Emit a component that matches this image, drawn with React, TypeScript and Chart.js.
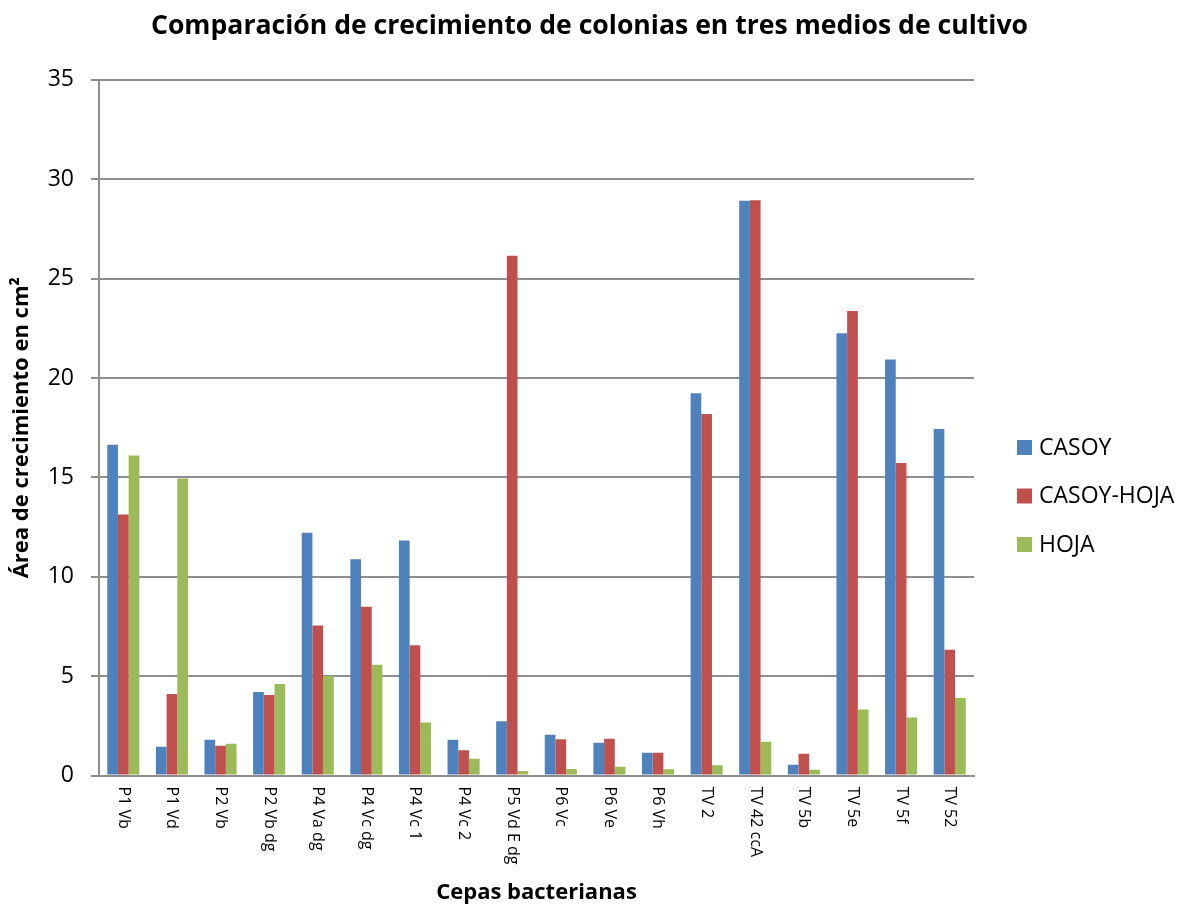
import React, { useEffect, useRef } from "react";
import { Chart, registerables } from "chart.js";

Chart.register(...registerables);

// Strains (categories) and colony growth area per culture medium, in cm²
const categories = [
  "P1 Vb", "P1 Vd", "P2 Vb", "P2 Vb dg", "P4 Va dg", "P4 Vc dg", "P4 Vc 1", "P4 Vc 2",
  "P5 Vd E dg", "P6 Vc", "P6 Ve", "P6 Vh", "TV 2", "TV 42 ccA", "TV 5b", "TV 5e", "TV 5f", "TV 52",
];
const casoy = [16.65, 1.45, 1.8, 4.2, 12.22, 10.88, 11.83, 1.8, 2.73, 2.05, 1.65, 1.15, 19.24, 28.92, 0.55, 22.25, 20.93, 17.44];
const casoyHoja = [13.13, 4.1, 1.5, 4.05, 7.55, 8.5, 6.56, 1.27, 26.16, 1.83, 1.85, 1.15, 18.19, 28.95, 1.1, 23.37, 15.73, 6.33];
const hoja = [16.11, 14.95, 1.6, 4.61, 5.01, 5.58, 2.67, 0.85, 0.23, 0.33, 0.44, 0.32, 0.52, 1.7, 0.3, 3.32, 2.92, 3.91];
const seriesNames = ["CASOY", "CASOY-HOJA", "HOJA"];
const yTicks = [0, 5, 10, 15, 20, 25, 30, 35];

const colors = ["#4F81BD", "#C0504D", "#9BBB59"];
const gridColor = "#8e8e8e";

// Category labels drawn reading top-to-bottom under each group
const verticalLabels = {
  id: "verticalLabels",
  afterDraw(chart: any) {
    const { ctx, scales } = chart;
    const x = scales.x;
    const top = chart.chartArea.bottom + 11;
    ctx.save();
    ctx.font = "16px 'Open Sans'";
    ctx.fillStyle = "#000";
    ctx.textAlign = "left";
    ctx.textBaseline = "middle";
    categories.forEach((label, i) => {
      const cx = x.getPixelForTick(i);
      ctx.save();
      ctx.translate(cx, top);
      ctx.rotate(Math.PI / 2);
      ctx.fillText(label, 0, 0);
      ctx.restore();
    });
    ctx.restore();
  },
};

// Legend at the right with square swatches
const sideLegend = {
  id: "sideLegend",
  afterDraw(chart: any) {
    const { ctx, chartArea } = chart;
    const x0 = chartArea.right + 43;
    const y0 = 447;
    const step = 48.5;
    ctx.save();
    ctx.font = "23px 'Open Sans'";
    ctx.textAlign = "left";
    ctx.textBaseline = "middle";
    chart.data.datasets.forEach((ds: any, i: number) => {
      const y = y0 + i * step;
      ctx.fillStyle = ds.backgroundColor;
      ctx.fillRect(x0, y - 7, 15, 15);
      ctx.fillStyle = "#000";
      ctx.fillText(ds.label, x0 + 22, y + 1);
    });
    ctx.restore();
  },
};

export default function App() {
  const canvasRef = useRef<HTMLCanvasElement | null>(null);

  useEffect(() => {
    if (!canvasRef.current) return;
    const chart = new Chart(canvasRef.current, {
      type: "bar",
      data: {
        labels: categories,
        datasets: [casoy, casoyHoja, hoja].map((values, i) => ({
          label: seriesNames[i],
          data: values,
          backgroundColor: colors[i],
          borderWidth: 0,
          categoryPercentage: 0.66,
          barPercentage: 1,
        })),
      },
      options: {
        animation: false,
        responsive: false,
        maintainAspectRatio: false,
        layout: { padding: 0 },
        plugins: {
          legend: { display: false },
          tooltip: { enabled: false },
          title: {
            display: true,
            text: "Comparación de crecimiento de colonias en tres medios de cultivo",
            color: "#000",
            font: { family: "'Open Sans'", size: 26.6, weight: "bold" },
            padding: { top: 10, bottom: 38 },
          },
        },
        scales: {
          x: {
            type: "category",
            offset: true,
            grid: { display: true, drawOnChartArea: false, drawTicks: false },
            border: { display: true, color: gridColor, width: 2 },
            ticks: { display: false },
            title: {
              display: true,
              text: "Cepas bacterianas",
              color: "#000",
              font: { family: "'Open Sans'", size: 22, weight: "bold" },
              padding: { top: 104, bottom: 0 },
            },
          },
          y: {
            min: 0,
            max: 35,
            afterBuildTicks(scale: any) {
              scale.ticks = yTicks.map((v) => ({ value: v }));
            },
            afterFit(scale: any) {
              scale.width = 99;
            },
            grid: { color: gridColor, lineWidth: 2, tickLength: 8, drawTicks: true },
            border: { display: true, color: gridColor, width: 2 },
            ticks: {
              color: "#000",
              font: { family: "'Open Sans'", size: 23 },
              padding: 17,
            },
            title: {
              display: true,
              text: "Área de crecimiento en cm²",
              color: "#000",
              font: { family: "'Open Sans'", size: 22, weight: "bold" },
              padding: { top: 9, bottom: 0 },
            },
          },
          // empty right-hand axis that reserves the legend column
          legendSpace: {
            type: "linear",
            position: "right",
            display: true,
            grid: { display: false, drawTicks: false },
            border: { display: false },
            ticks: { display: false },
            afterFit(scale: any) {
              scale.width = 205;
            },
          },
        },
      },
      plugins: [verticalLabels, sideLegend],
    });
    return () => chart.destroy();
  }, []);

  return (
    <div style={{ position: "fixed", left: 0, top: 0, width: 1179, height: 906, background: "#fff" }}>
      <canvas ref={canvasRef} width={1179} height={906} style={{ width: 1179, height: 906 }} />
    </div>
  );
}
